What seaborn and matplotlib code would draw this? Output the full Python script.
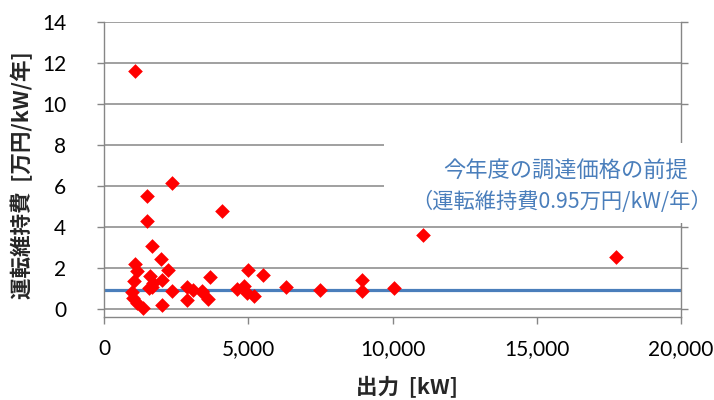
import matplotlib
matplotlib.use("Agg")
import matplotlib.pyplot as plt
from matplotlib.patches import Rectangle
import seaborn as sns
import pandas as pd

# 出力 [kW] と 運転維持費 [万円/kW/年]
output_kw = [1075, 2370, 1480, 1480, 4100, 1680, 1980, 1080, 2230, 1130,
             1600, 3680, 5000, 5500, 6300, 2000, 1030, 1700, 1650, 2350,
             2880, 3100, 2880, 3400, 3600, 4600, 4850, 5200, 4950, 2000,
             1350, 980, 1010, 1130, 7500, 8950, 8950, 10050, 11050, 17750,
             1560, 3380]
om_cost = [11.62, 6.15, 5.50, 4.30, 4.80, 3.10, 2.42, 2.20, 1.90, 1.85,
           1.62, 1.55, 1.92, 1.65, 1.08, 1.40, 1.35, 1.27, 1.10, 0.88,
           1.08, 0.95, 0.45, 0.82, 0.50, 1.00, 1.15, 0.65, 0.80, 0.18,
           0.05, 0.85, 0.55, 0.30, 0.95, 1.40, 0.90, 1.05, 3.60, 2.52,
           1.02, 0.90]

# 前提の運転維持費 (0.95万円/kW/年)
premise_x = [0, 20000]
premise_y = [0.95, 0.95]

x_ticks = [0, 5000, 10000, 15000, 20000]
y_ticks = [0, 2, 4, 6, 8, 10, 12, 14]

df = pd.DataFrame({"出力": output_kw, "運転維持費": om_cost})
line_df = pd.DataFrame({"x": premise_x, "y": premise_y})

sns.set_style("white")
plt.rcParams["font.family"] = ["Lato", "Noto Sans CJK JP", "DejaVu Sans"]

W, H = 714, 400
fig = plt.figure(figsize=(W / 100, H / 100), dpi=100)
ax = fig.add_axes([104 / W, 1 - 316.7 / H, 577 / W, 294.7 / H])

grid_c = "#868686"
blue = "#4a7ebb"

sns.lineplot(data=line_df, x="x", y="y", ax=ax, color=blue, lw=2.3, zorder=2)
sns.scatterplot(data=df, x="出力", y="運転維持費", ax=ax, marker="D", s=56,
                color="#ff0000", linewidth=0, zorder=3)

ax.set_xlim(0, 20000)
ax.set_ylim(-0.37, 14)
ax.set_xticks(x_ticks)
ax.set_xticklabels([f"{v:,}" for v in x_ticks])
ax.set_yticks(y_ticks)
ax.yaxis.grid(True, color=grid_c, lw=1.1)
ax.xaxis.grid(False)

for side in ["left", "bottom", "right"]:
    ax.spines[side].set_visible(True)
    ax.spines[side].set_color(grid_c)
    ax.spines[side].set_linewidth(1.0)
ax.spines["top"].set_visible(False)

ax.tick_params(axis="x", direction="out", length=5.3, width=1, color=grid_c,
               pad=11, labelsize=15, labelcolor="black", bottom=True)
ax.tick_params(axis="y", direction="out", length=5.3, width=1, color=grid_c,
               pad=22, labelsize=15, labelcolor="black", left=True)
ax.tick_params(axis="y", which="major", right=True, labelright=False)

ax.set_xlabel("出力  [kW]", fontsize=15.5, fontweight="bold",
              family=["Noto Sans CJK JP", "DejaVu Sans"])
ax.set_ylabel("運転維持費  [万円/kW/年]", fontsize=15.5, fontweight="bold",
              family=["Noto Sans CJK JP", "DejaVu Sans"])
ax.xaxis.set_label_coords(0.525, -0.2)
ax.yaxis.set_label_coords(-0.122, 0.48)

# 注記のテキストボックス (白地で罫線を隠す)
fig.patches.append(Rectangle((384 / W, 1 - 223 / H), (W - 384) / W, 80 / H,
                             transform=fig.transFigure, facecolor="white",
                             edgecolor="none", zorder=5))
fig.text(566 / W, 1 - 171 / H, "今年度の調達価格の前提", color=blue,
         fontsize=16, ha="center", va="center", zorder=6,
         family=["Noto Sans CJK JP", "DejaVu Sans"])
fig.text(562 / W, 1 - 202 / H, "（運転維持費0.95万円/kW/年）", color=blue,
         fontsize=15.3, ha="center", va="center", zorder=6,
         family=["Noto Sans CJK JP", "DejaVu Sans"])

fig.savefig("out.png", dpi=100)
